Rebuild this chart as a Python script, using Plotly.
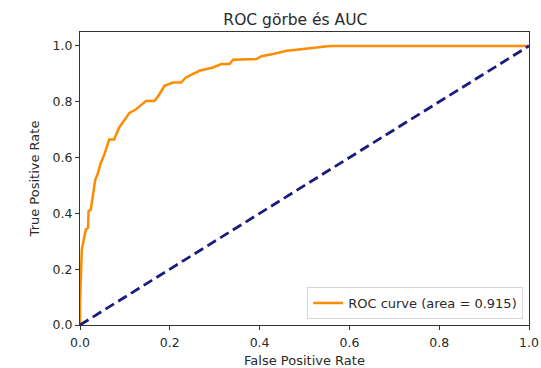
import plotly.graph_objects as go

fpr = [0.0, 0.0, 0.004, 0.009, 0.013, 0.018, 0.019, 0.024, 0.028, 0.034, 0.039, 0.046, 0.054,
       0.065, 0.076, 0.087, 0.110, 0.125, 0.147, 0.166, 0.177, 0.188, 0.207, 0.225, 0.236,
       0.266, 0.296, 0.315, 0.333, 0.341, 0.393, 0.404, 0.430, 0.460, 0.497, 0.527, 0.557, 1.0]
tpr = [0.0, 0.08, 0.27, 0.306, 0.342, 0.348, 0.408, 0.414, 0.462, 0.52, 0.54, 0.58, 0.61,
       0.665, 0.665, 0.707, 0.76, 0.773, 0.803, 0.803, 0.827, 0.857, 0.869, 0.869, 0.887,
       0.911, 0.923, 0.935, 0.935, 0.951, 0.953, 0.963, 0.971, 0.983, 0.989, 0.995, 1.0, 1.0]
diag = [0.0, 1.0]
roc_auc = 0.915
ticks = [0, 0.2, 0.4, 0.6, 0.8, 1.0]
tick_text = ["0.0", "0.2", "0.4", "0.6", "0.8", "1.0"]

font = "DejaVu Sans"
txt = "#2a2a2a"
fig = go.Figure()
fig.add_trace(go.Scatter(x=fpr, y=tpr, mode="lines", line=dict(color="darkorange", width=2.5),
                         name="ROC curve (area = %0.3f)" % roc_auc))
fig.add_trace(go.Scatter(x=diag, y=diag, mode="lines",
                         line=dict(color="#1c1c80", width=2.8, dash="10px,5px"),
                         showlegend=False))
axis_common = dict(showgrid=False, zeroline=False, showline=True, linecolor="#333333", linewidth=1,
                   mirror=True, ticks="outside", ticklen=4, tickcolor="#333333", automargin=False,
                   tickvals=ticks, ticktext=tick_text, tickfont=dict(size=12.5, color=txt))
fig.update_layout(
    width=541, height=368,
    margin=dict(l=80, r=12, t=32, b=43),
    paper_bgcolor="white", plot_bgcolor="white",
    font=dict(family=font, size=13, color=txt),
    title=dict(text="ROC görbe és AUC", x=0.546, xanchor="center", y=0.948, yanchor="middle",
               font=dict(size=15.5, color=txt)),
    legend=dict(x=0.987, y=0.02, xanchor="right", yanchor="bottom",
                bordercolor="#d6d6d6", borderwidth=1, bgcolor="rgba(255,255,255,0.9)",
                font=dict(size=13, color=txt), tracegroupgap=0),
    xaxis=dict(range=[0, 1], title=dict(text="False Positive Rate", standoff=7, font=dict(size=13)),
               ticklabelstandoff=2, **axis_common),
    yaxis=dict(range=[0, 1.05], title=dict(text="True Positive Rate", standoff=10, font=dict(size=13)),
               **axis_common),
)
fig.write_html("out.html")
